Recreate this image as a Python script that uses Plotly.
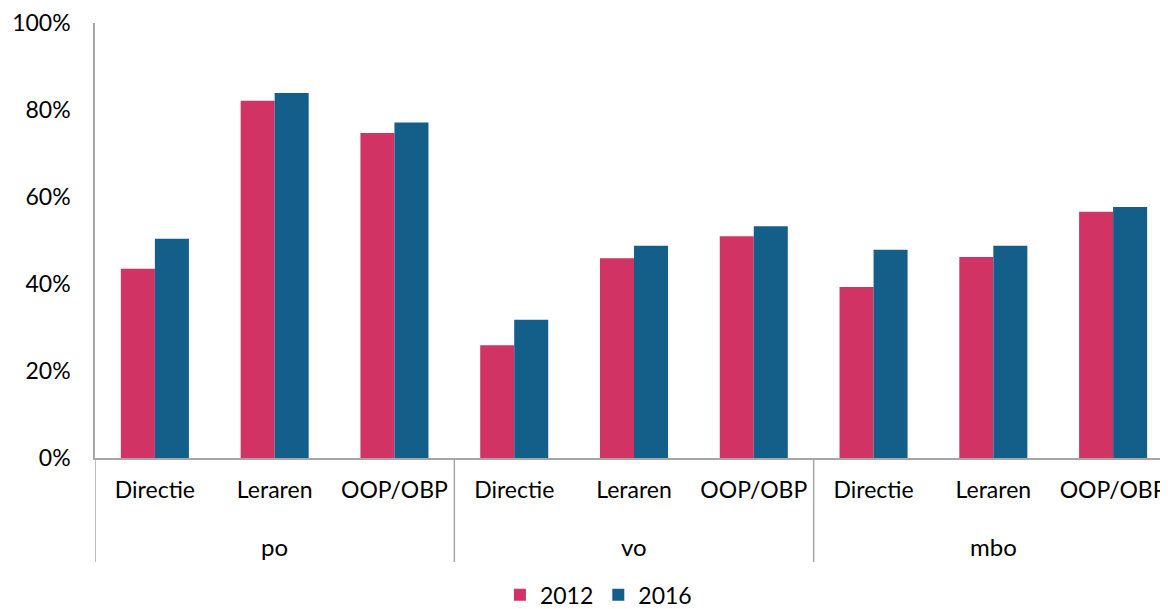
import plotly.graph_objects as go

groups = ["po", "vo", "mbo"]
roles = ["Directie", "Leraren", "OOP/OBP"]
series_names = ["2012", "2016"]
values_2012 = [43.5, 82.1, 74.7, 25.9, 45.9, 51.0, 39.3, 46.2, 56.6]
values_2016 = [50.4, 83.9, 77.1, 31.8, 48.8, 53.3, 47.9, 48.8, 57.7]
colors = ["#D03364", "#145F8A"]
y_ticks = [0, 20, 40, 60, 80, 100]

x_labels = [r for _ in groups for r in roles]
x_pos = list(range(len(x_labels)))
n_roles = len(roles)

FONT = "Lato"
FS = 24
AXIS_COL = "#A6A6A6"

fig = go.Figure()
for name, vals, col in zip(series_names, [values_2012, values_2016], colors):
    fig.add_trace(go.Bar(
        x=x_pos, y=vals, name=name,
        marker=dict(color=col, line=dict(width=0)),
    ))

# group labels and dividers
for gi, g in enumerate(groups):
    center = gi * n_roles + (n_roles - 1) / 2
    fig.add_annotation(x=center, xref="x", y=-0.203, yref="paper", text=g,
                       showarrow=False, yanchor="middle", xanchor="center",
                       font=dict(size=FS, family=FONT, color="#000"))
    left = gi * n_roles - 0.5
    fig.add_shape(type="line", xref="x", yref="paper", x0=left, x1=left,
                  y0=0, y1=-0.239, line=dict(color=AXIS_COL, width=1.5))

fig.update_layout(
    width=1165, height=601,
    margin=dict(l=87, r=0, t=15, b=151),
    paper_bgcolor="white", plot_bgcolor="white",
    barmode="group", bargap=0.432, bargroupgap=0,
    font=dict(family=FONT, size=FS, color="#000000"),
    showlegend=True,
    legend=dict(orientation="h", xref="container", yref="container",
                x=0.5068, xanchor="center", y=0.0235, yanchor="middle",
                font=dict(size=23, family=FONT), itemwidth=30, tracegroupgap=0,
                bgcolor="rgba(0,0,0,0)"),
    xaxis=dict(
        range=[-0.5, len(x_labels) - 0.5], tickvals=x_pos, ticktext=x_labels,
        showline=True, linecolor=AXIS_COL, linewidth=1.5, automargin=False,
        showgrid=False, zeroline=False, ticks="", ticklabelstandoff=11,
        tickfont=dict(size=23, family=FONT),
    ),
    yaxis=dict(
        range=[0, 100], tickvals=y_ticks, ticktext=[f"{v}%" for v in y_ticks],
        showline=True, linecolor=AXIS_COL, linewidth=1.5, showgrid=False,
        zeroline=False, ticks="", ticklabelstandoff=18, automargin=False,
        ticklabeloverflow="allow", tickfont=dict(size=23, family=FONT),
    ),
)

fig.write_html("out.html")
